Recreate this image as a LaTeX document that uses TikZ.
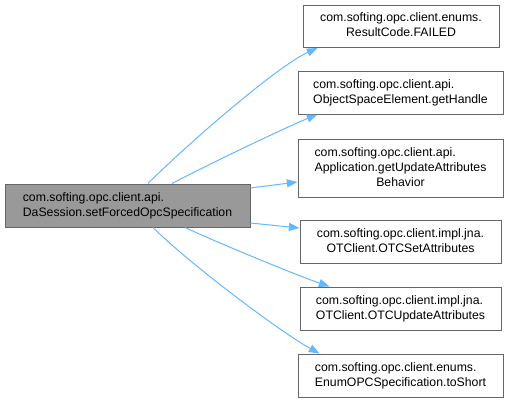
\documentclass[tikz,border=0pt]{standalone}
\usepackage{fontspec}
\setmainfont{Liberation Sans}
\usetikzlibrary{arrows.meta,calc}
\definecolor{edgeblue}{HTML}{63B8FF}
\definecolor{boxgray}{HTML}{999999}
\definecolor{linegray}{HTML}{666666}
% all lines flush left, the last one centred
\newcommand{\fnlabel}[2]{\begin{tabular}{@{}l@{}}#1\\\multicolumn{1}{@{}c@{}}{#2}\end{tabular}}

\begin{document}
\begin{tikzpicture}[x=0.75pt,y=-0.75pt,
    fn/.style={draw=linegray,fill=white,line width=0.75pt,inner sep=0pt,
      minimum height=32.25pt,font=\fontsize{9.2}{11.25}\selectfont},
    caller/.style={fn,fill=boxgray},
    call/.style={draw=edgeblue,line width=0.75pt,-{Triangle[length=8pt,width=6pt]}}]
        \useasboundingbox (0,0) rectangle (509,403);
        \node[caller,minimum width=183.75pt] (main) at (127.5,205.5)
            {\fnlabel{com.softing.opc.client.api.}{DaSession.setForcedOpcSpecification}};
        \node[fn,minimum width=147pt,minimum height=31.5pt] (failed) at (401,26.5)
            {\fnlabel{com.softing.opc.client.enums.}{ResultCode.FAILED}};
        \node[fn,minimum width=153.75pt] (handle) at (400.5,92.5)
            {\fnlabel{com.softing.opc.client.api.}{ObjectSpaceElement.getHandle}};
        \node[fn,minimum width=153.75pt,minimum height=43.5pt] (behavior) at (400.5,168)
            {\fnlabel{com.softing.opc.client.api.\\Application.getUpdateAttributes}{Behavior}};
        \node[fn,minimum width=150.75pt] (setattr) at (400.5,242)
            {\fnlabel{com.softing.opc.client.impl.jna.}{OTClient.OTCSetAttributes}};
        \node[fn,minimum width=150.75pt] (updattr) at (400.5,308.5)
            {\fnlabel{com.softing.opc.client.impl.jna.}{OTClient.OTCUpdateAttributes}};
        \node[fn,minimum width=153.75pt] (toshort) at (400.5,375.5)
            {\fnlabel{com.softing.opc.client.enums.}{EnumOPCSpecification.toShort}};

        \draw[call] ($(main.north)+(20.5,0)$) .. controls +(40,-40) and +(-40,18) .. ($(failed.south west)+(15,0)$);
        \draw[call] ($(main.north)+(44.5,0)$) .. controls +(30,-16) and +(-30,12) .. ($(handle.south west)+(20,0)$);
        \draw[call] ($(main.east)+(0,-17.5)$) -- ($(behavior.west)+(0,14)$);
        \draw[call] ($(main.east)+(0,17.5)$) -- ($(setattr.west)+(0,-14)$);
        \draw[call] ($(main.south)+(57.5,0)$) .. controls +(30,14) and +(-35,-12) .. ($(updattr.north west)+(30,0)$);
        \draw[call] ($(main.south)+(25.5,0)$) .. controls +(35,35) and +(-40,-22) .. ($(toshort.north west)+(22,0)$);
    \end{tikzpicture}
\end{document}
